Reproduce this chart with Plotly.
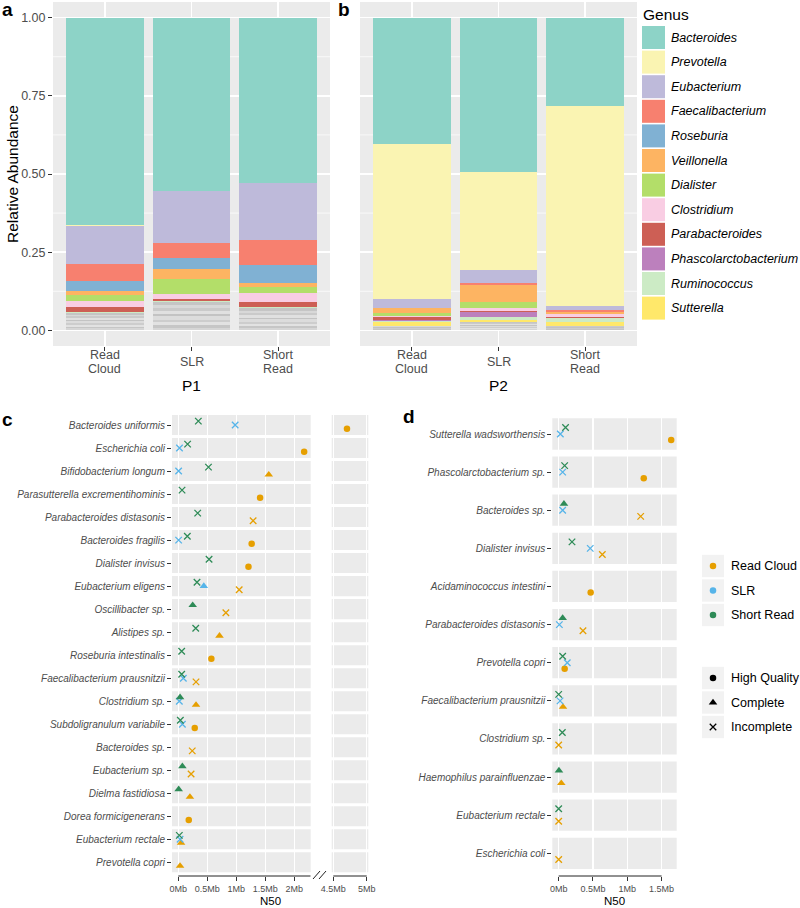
import plotly.graph_objects as go

W, H = 800, 908
FONT = "Liberation Sans, Arial, Helvetica, sans-serif"


def px_x(p):
    return p / W


def px_y(p):
    return 1 - p / H


# ---------------- data: panels a / b (relative abundance) ----------------
samples = ["Read Cloud", "SLR", "Short Read"]
sample_tick_lines = [["Read", "Cloud"], ["SLR"], ["Short", "Read"]]
genera = ["Bacteroides", "Prevotella", "Eubacterium", "Faecalibacterium", "Roseburia",
          "Veillonella", "Dialister", "Clostridium", "Parabacteroides",
          "Phascolarctobacterium", "Ruminococcus", "Sutterella"]
genus_colors = ["#8DD3C7", "#FAF4B2", "#BEBADA", "#F7806F", "#80B1D3", "#FDB462",
                "#B3DE69", "#F9CDE3", "#CD5F55", "#BC80BD", "#CCEBC5", "#FFE86A"]

# values in genera order
p1_read_cloud = [0.662, 0.003, 0.122, 0.055, 0.031, 0.015, 0.019, 0.017, 0.018, 0.000, 0.002, 0.000]
p1_slr = [0.554, 0.000, 0.166, 0.049, 0.035, 0.032, 0.047, 0.016, 0.007, 0.000, 0.002, 0.000]
p1_short_read = [0.528, 0.000, 0.182, 0.082, 0.057, 0.012, 0.019, 0.028, 0.017, 0.000, 0.004, 0.000]
p2_read_cloud = [0.405, 0.496, 0.026, 0.002, 0.000, 0.017, 0.008, 0.004, 0.008, 0.003, 0.004, 0.013]
p2_slr = [0.492, 0.314, 0.041, 0.008, 0.000, 0.055, 0.019, 0.008, 0.005, 0.015, 0.009, 0.006]
p2_short_read = [0.281, 0.642, 0.013, 0.004, 0.000, 0.007, 0.002, 0.008, 0.005, 0.000, 0.011, 0.012]

# remaining low-abundance genera (unlabelled grey stripes)
p1_other_read_cloud = [0.006, 0.004, 0.008, 0.005, 0.007, 0.004, 0.006, 0.005, 0.004, 0.007]
p1_other_slr = [0.009, 0.007, 0.010, 0.008, 0.011, 0.007, 0.011, 0.009, 0.008, 0.012]
p1_other_short_read = [0.007, 0.006, 0.008, 0.006, 0.009, 0.005, 0.008, 0.007, 0.006, 0.009]
p2_other_read_cloud = [0.002, 0.001, 0.002, 0.001, 0.002, 0.002, 0.001, 0.001, 0.001, 0.001]
p2_other_slr = [0.003, 0.002, 0.004, 0.002, 0.003, 0.003, 0.002, 0.004, 0.002, 0.003]
p2_other_short_read = [0.002, 0.001, 0.002, 0.002, 0.001, 0.002, 0.001, 0.002, 0.001, 0.001]
other_shades = ["#D6D6D6", "#C6C6C6", "#E2E2E2", "#CDCDCD", "#DCDCDC",
                "#C3C3C3", "#E0E0E0", "#CACACA", "#D8D8D8", "#C5C5C5"]

abund_tickvals = [0, 0.25, 0.5, 0.75, 1.0]
abund_ticktext = ["0.00", "0.25", "0.50", "0.75", "1.00"]

# ---------------- data: panels c / d (N50 in Mb) ----------------
methods = ["Read Cloud", "SLR", "Short Read"]
method_colors = ["#E69F00", "#56B4E9", "#2E8B57"]
qualities = ["High Quality", "Complete", "Incomplete"]

c_species = ["Bacteroides uniformis", "Escherichia coli", "Bifidobacterium longum",
             "Parasutterella excrementihominis", "Parabacteroides distasonis",
             "Bacteroides fragilis", "Dialister invisus", "Eubacterium eligens",
             "Oscillibacter sp.", "Alistipes sp.", "Roseburia intestinalis",
             "Faecalibacterium prausnitzii", "Clostridium sp.", "Subdoligranulum variabile",
             "Bacteroides sp.", "Eubacterium sp.", "Dielma fastidiosa",
             "Dorea formicigenerans", "Eubacterium rectale", "Prevotella copri"]

c_point_species = [
    "Bacteroides uniformis", "Bacteroides uniformis", "Bacteroides uniformis",
    "Escherichia coli", "Escherichia coli", "Escherichia coli",
    "Bifidobacterium longum", "Bifidobacterium longum", "Bifidobacterium longum",
    "Parasutterella excrementihominis", "Parasutterella excrementihominis",
    "Parabacteroides distasonis", "Parabacteroides distasonis",
    "Bacteroides fragilis", "Bacteroides fragilis", "Bacteroides fragilis",
    "Dialister invisus", "Dialister invisus",
    "Eubacterium eligens", "Eubacterium eligens", "Eubacterium eligens",
    "Oscillibacter sp.", "Oscillibacter sp.",
    "Alistipes sp.", "Alistipes sp.",
    "Roseburia intestinalis", "Roseburia intestinalis",
    "Faecalibacterium prausnitzii", "Faecalibacterium prausnitzii", "Faecalibacterium prausnitzii",
    "Clostridium sp.", "Clostridium sp.", "Clostridium sp.",
    "Subdoligranulum variabile", "Subdoligranulum variabile", "Subdoligranulum variabile",
    "Bacteroides sp.",
    "Eubacterium sp.", "Eubacterium sp.",
    "Dielma fastidiosa", "Dielma fastidiosa",
    "Dorea formicigenerans",
    "Eubacterium rectale", "Eubacterium rectale", "Eubacterium rectale",
    "Prevotella copri"]
c_point_method = [
    "Short Read", "SLR", "Read Cloud",
    "SLR", "Short Read", "Read Cloud",
    "SLR", "Short Read", "Read Cloud",
    "Short Read", "Read Cloud",
    "Short Read", "Read Cloud",
    "SLR", "Short Read", "Read Cloud",
    "Short Read", "Read Cloud",
    "Short Read", "SLR", "Read Cloud",
    "Short Read", "Read Cloud",
    "Short Read", "Read Cloud",
    "Short Read", "Read Cloud",
    "Short Read", "SLR", "Read Cloud",
    "Short Read", "SLR", "Read Cloud",
    "Short Read", "SLR", "Read Cloud",
    "Read Cloud",
    "Short Read", "Read Cloud",
    "Short Read", "Read Cloud",
    "Read Cloud",
    "Short Read", "SLR", "Read Cloud",
    "Read Cloud"]
c_point_quality = [
    "Incomplete", "Incomplete", "High Quality",
    "Incomplete", "Incomplete", "High Quality",
    "Incomplete", "Incomplete", "Complete",
    "Incomplete", "High Quality",
    "Incomplete", "Incomplete",
    "Incomplete", "Incomplete", "High Quality",
    "Incomplete", "High Quality",
    "Incomplete", "Complete", "Incomplete",
    "Complete", "Incomplete",
    "Incomplete", "Complete",
    "Incomplete", "High Quality",
    "Incomplete", "Incomplete", "Incomplete",
    "Complete", "Incomplete", "Complete",
    "Incomplete", "Incomplete", "High Quality",
    "Incomplete",
    "Complete", "Incomplete",
    "Complete", "Complete",
    "High Quality",
    "Incomplete", "Incomplete", "Complete",
    "Complete"]
c_point_n50 = [
    0.345, 0.98, 4.705,
    0.02, 0.16, 2.17,
    0.005, 0.52, 1.56,
    0.064, 1.41,
    0.334, 1.29,
    0.005, 0.155, 1.265,
    0.53, 1.21,
    0.322, 0.44, 1.05,
    0.248, 0.82,
    0.30, 0.71,
    0.058, 0.57,
    0.058, 0.086, 0.305,
    0.03, 0.017, 0.305,
    0.035, 0.07, 0.283,
    0.24,
    0.07, 0.22,
    0.006, 0.20,
    0.18,
    0.017, 0.03, 0.047,
    0.03]

c_left_tickvals = [0, 0.5, 1.0, 1.5, 2.0]
c_left_ticktext = ["0Mb", "0.5Mb", "1Mb", "1.5Mb", "2Mb"]
c_right_tickvals = [4.5, 5.0]
c_right_ticktext = ["4.5Mb", "5Mb"]
c_break = 3.0

d_species = ["Sutterella wadsworthensis", "Phascolarctobacterium sp.", "Bacteroides sp.",
             "Dialister invisus", "Acidaminococcus intestini", "Parabacteroides distasonis",
             "Prevotella copri", "Faecalibacterium prausnitzii", "Clostridium sp.",
             "Haemophilus parainfluenzae", "Eubacterium rectale", "Escherichia coli"]
d_point_species = [
    "Sutterella wadsworthensis", "Sutterella wadsworthensis", "Sutterella wadsworthensis",
    "Phascolarctobacterium sp.", "Phascolarctobacterium sp.", "Phascolarctobacterium sp.",
    "Bacteroides sp.", "Bacteroides sp.", "Bacteroides sp.",
    "Dialister invisus", "Dialister invisus", "Dialister invisus",
    "Acidaminococcus intestini",
    "Parabacteroides distasonis", "Parabacteroides distasonis", "Parabacteroides distasonis",
    "Prevotella copri", "Prevotella copri", "Prevotella copri",
    "Faecalibacterium prausnitzii", "Faecalibacterium prausnitzii", "Faecalibacterium prausnitzii",
    "Clostridium sp.", "Clostridium sp.",
    "Haemophilus parainfluenzae", "Haemophilus parainfluenzae",
    "Eubacterium rectale", "Eubacterium rectale",
    "Escherichia coli"]
d_point_method = [
    "SLR", "Short Read", "Read Cloud",
    "SLR", "Short Read", "Read Cloud",
    "Short Read", "SLR", "Read Cloud",
    "Short Read", "SLR", "Read Cloud",
    "Read Cloud",
    "Short Read", "SLR", "Read Cloud",
    "Short Read", "SLR", "Read Cloud",
    "Short Read", "SLR", "Read Cloud",
    "Short Read", "Read Cloud",
    "Short Read", "Read Cloud",
    "Short Read", "Read Cloud",
    "Read Cloud"]
d_point_quality = [
    "Incomplete", "Incomplete", "High Quality",
    "Incomplete", "Incomplete", "High Quality",
    "Complete", "Incomplete", "Incomplete",
    "Incomplete", "Incomplete", "Incomplete",
    "High Quality",
    "Complete", "Incomplete", "Incomplete",
    "Incomplete", "Incomplete", "High Quality",
    "Incomplete", "Incomplete", "Complete",
    "Incomplete", "Incomplete",
    "Complete", "Complete",
    "Incomplete", "Incomplete",
    "Incomplete"]
d_point_n50 = [
    0.024, 0.10, 1.64,
    0.058, 0.087, 1.24,
    0.077, 0.058, 1.195,
    0.194, 0.46, 0.636,
    0.466,
    0.058, 0.01, 0.354,
    0.058, 0.125, 0.087,
    0.0, 0.02, 0.063,
    0.053, 0.0,
    0.004, 0.038,
    0.0, 0.0,
    0.0]

d_tickvals = [0, 0.5, 1.0, 1.5]
d_ticktext = ["0Mb", "0.5Mb", "1Mb", "1.5Mb"]

# ---------------- styling ----------------
PANEL_BG = "#EBEBEB"
TXT = "#4D4D4D"
TICKC = "#333333"
quality_symbol = {"High Quality": "circle", "Complete": "triangle-up", "Incomplete": "x-thin"}
quality_size = {"High Quality": 6.5, "Complete": 7.5, "Incomplete": 6.5}
quality_lw = {"High Quality": 0, "Complete": 0, "Incomplete": 1.3}
dodge = {"Read Cloud": 0.16, "SLR": 0.0, "Short Read": -0.17}

fig = go.Figure()

# ---------------- bars ----------------
bar_sets = [
    ([p1_read_cloud, p1_slr, p1_short_read],
     [p1_other_read_cloud, p1_other_slr, p1_other_short_read], "x", "y"),
    ([p2_read_cloud, p2_slr, p2_short_read],
     [p2_other_read_cloud, p2_other_slr, p2_other_short_read], "x2", "y2"),
]
for vals, others, xa, ya in bar_sets:
    for k, shade in enumerate(other_shades):
        fig.add_trace(go.Bar(x=samples, y=[o[k] for o in others],
                             marker=dict(color=shade, line=dict(width=0)),
                             xaxis=xa, yaxis=ya, showlegend=False, hoverinfo="skip"))
    for g in reversed(range(len(genera))):
        fig.add_trace(go.Bar(x=samples, y=[v[g] for v in vals], name=genera[g],
                             marker=dict(color=genus_colors[g], line=dict(width=0)),
                             xaxis=xa, yaxis=ya, showlegend=False))


# ---------------- points ----------------
def add_points(species, p_species, p_method, p_quality, p_n50, parts):
    for m, col in zip(methods, method_colors):
        for xa, ya, keep in parts:
            idx = [i for i in range(len(p_n50)) if p_method[i] == m and keep(p_n50[i])]
            if not idx:
                continue
            fig.add_trace(go.Scatter(
                x=[p_n50[i] for i in idx],
                y=[species.index(p_species[i]) + dodge[m] for i in idx],
                mode="markers", name=m, showlegend=False, cliponaxis=False,
                marker=dict(color=col, opacity=1,
                            symbol=[quality_symbol[p_quality[i]] for i in idx],
                            size=[quality_size[p_quality[i]] for i in idx],
                            line=dict(color=col, width=[quality_lw[p_quality[i]] for i in idx])),
                xaxis=xa, yaxis=ya))


add_points(c_species, c_point_species, c_point_method, c_point_quality, c_point_n50,
           [("x3", "y3", lambda v: v < c_break), ("x4", "y4", lambda v: v >= c_break)])
add_points(d_species, d_point_species, d_point_method, d_point_quality, d_point_n50,
           [("x5", "y5", lambda v: True)])

# ---------------- layout geometry ----------------
shapes = []
annotations = []

# panel a/b backgrounds and minor grid lines
minor_vals = [(abund_tickvals[i] + abund_tickvals[i + 1]) / 2 for i in range(len(abund_tickvals) - 1)]
for xr, yr in [("x", "y"), ("x2", "y2")]:
    shapes.append(dict(type="rect", xref=xr + " domain", yref=yr + " domain", x0=0, x1=1, y0=0, y1=1,
                       fillcolor=PANEL_BG, line=dict(width=0), layer="below"))
    for mv in minor_vals:
        shapes.append(dict(type="line", xref=xr + " domain", yref=yr, x0=0, x1=1, y0=mv, y1=mv,
                           line=dict(color="white", width=0.7), layer="below"))
    # category tick labels (two-line, tight spacing)
    for s, lines in zip(samples, sample_tick_lines):
        n = len(lines)
        for li, t in enumerate(lines):
            annotations.append(dict(text=t, x=s, xref=xr, y=px_y(362 + (li - (n - 1) / 2) * 13.8),
                                    yref="paper", xanchor="center", yanchor="middle",
                                    showarrow=False, font=dict(size=12.5, color=TXT, family=FONT)))

# panel c / d row bands (facets)
for i in range(len(c_species)):
    for xr, yr in [("x3", "y3"), ("x4", "y4")]:
        shapes.append(dict(type="rect", xref=xr + " domain", yref=yr, x0=0, x1=1,
                           y0=i - 0.435, y1=i + 0.435, fillcolor=PANEL_BG,
                           line=dict(width=0), layer="below"))
for i in range(len(d_species)):
    shapes.append(dict(type="rect", xref="x5 domain", yref="y5", x0=0, x1=1,
                       y0=i - 0.41, y1=i + 0.41, fillcolor=PANEL_BG,
                       line=dict(width=0), layer="below"))

# capped axis lines for c / d
shapes.append(dict(type="line", xref="x3", yref="y3 domain", x0=c_left_tickvals[0], x1=2.283,
                   y0=0, y1=0, line=dict(color="#222222", width=1)))
shapes.append(dict(type="line", xref="x4", yref="y4 domain", x0=c_right_tickvals[0],
                   x1=c_right_tickvals[-1], y0=0, y1=0, line=dict(color="#222222", width=1)))
shapes.append(dict(type="line", xref="x5", yref="y5 domain", x0=d_tickvals[0], x1=d_tickvals[-1],
                   y0=0, y1=0, line=dict(color="#222222", width=1)))
# axis break marks
for dx in (0, 6):
    shapes.append(dict(type="line", xref="paper", yref="paper",
                       x0=px_x(313 + dx), y0=px_y(879), x1=px_x(320 + dx), y1=px_y(871),
                       line=dict(color="#222222", width=1)))

# Genus legend
annotations.append(dict(text="Genus", x=px_x(641), y=px_y(14), xref="paper", yref="paper",
                        xanchor="left", yanchor="middle", showarrow=False,
                        font=dict(size=15.5, color="black", family=FONT)))
for i, (g, col) in enumerate(zip(genera, genus_colors)):
    cy = 37.5 + i * 24.6
    shapes.append(dict(type="rect", xref="paper", yref="paper",
                       x0=px_x(642), x1=px_x(665), y0=px_y(cy + 11.5), y1=px_y(cy - 11.5),
                       fillcolor=col, line=dict(width=0)))
    annotations.append(dict(text="<i>" + g + "</i>", x=px_x(669), y=px_y(cy), xref="paper",
                            yref="paper", xanchor="left", yanchor="middle", showarrow=False,
                            font=dict(size=12.5, color="black", family=FONT)))

# legend for c/d: keys drawn on a small dedicated axis (pixel rows)
LEG_TOP, LEG_BOT = 550, 745
leg_items = []
for i, (m, col) in enumerate(zip(methods, method_colors)):
    leg_items.append((566 + i * 24.5, m, col, "circle", 6.5, 0))
for j, q in enumerate(qualities):
    leg_items.append((678 + j * 24.5, q, "black", quality_symbol[q], quality_size[q], quality_lw[q]))
for cy, label, col, sym, size, lw in leg_items:
    shapes.append(dict(type="rect", xref="paper", yref="paper",
                       x0=px_x(702), x1=px_x(724), y0=px_y(cy + 11.2), y1=px_y(cy - 11.2),
                       fillcolor="#F2F2F2", line=dict(width=0), layer="below"))
    annotations.append(dict(text=label, x=px_x(729), y=px_y(cy), xref="paper", yref="paper",
                            xanchor="left", yanchor="middle", showarrow=False,
                            font=dict(size=12.5, color="black", family=FONT)))
fig.add_trace(go.Scatter(
    x=[0.5] * len(leg_items), y=[it[0] for it in leg_items], mode="markers",
    marker=dict(color=[it[2] for it in leg_items], symbol=[it[3] for it in leg_items],
                size=[it[4] for it in leg_items], opacity=1,
                line=dict(color=[it[2] for it in leg_items], width=[it[5] for it in leg_items])),
    xaxis="x6", yaxis="y6", showlegend=False, hoverinfo="skip", cliponaxis=False))


# titles / panel letters
def ann(text, x, y, size, color="black", bold=False, angle=0, xanchor="center"):
    annotations.append(dict(text=("<b>%s</b>" % text) if bold else text, x=px_x(x), y=px_y(y),
                            xref="paper", yref="paper", xanchor=xanchor, yanchor="middle",
                            showarrow=False, textangle=angle,
                            font=dict(size=size, color=color, family=FONT)))


ann("a", 0, 10, 19, bold=True, xanchor="left")
ann("b", 336, 10, 19, bold=True, xanchor="left")
ann("c", 0, 419, 19, bold=True, xanchor="left")
ann("d", 401, 416, 19, bold=True, xanchor="left")
ann("Relative Abundance", 12, 174, 15.5, angle=-90)
ann("P1", 191.5, 385, 15.5)
ann("P2", 498.5, 385, 15.5)
ann("N50", 270, 901, 11.5)
ann("N50", 614.5, 901, 11.5)

tick_common = dict(ticks="outside", ticklen=4, tickwidth=1, tickcolor=TICKC,
                   zeroline=False, showline=False, automargin=False)

bar_x = dict(type="category", categoryorder="array", categoryarray=samples,
             range=[-0.6, 2.6], tickvals=samples, showticklabels=False,
             showgrid=True, gridcolor="white", gridwidth=1.4, **tick_common)

bar_y_common = dict(range=[-0.05, 1.05], tickvals=abund_tickvals, ticktext=abund_ticktext,
                    tickfont=dict(size=12.5, color=TXT, family=FONT),
                    showgrid=True, gridcolor="white", gridwidth=1.4,
                    domain=[px_y(346), px_y(2)], zeroline=False, showline=False,
                    automargin=False)

c_ydom = [px_y(876), px_y(413.5)]
c_yrange = [19.595, -0.5]
d_ydom = [px_y(876), px_y(417)]
d_yrange = [11.595, -0.446]
small_x = dict(tickfont=dict(size=9, color=TXT, family=FONT),
               showgrid=True, gridcolor="white", gridwidth=1.5, **tick_common)

fig.update_layout(
    template="none",
    width=W, height=H, autosize=False,
    margin=dict(l=0, r=0, t=0, b=0, pad=0),
    paper_bgcolor="white", plot_bgcolor="white",
    barmode="stack", bargap=0.1,
    font=dict(family=FONT, color=TXT),
    showlegend=False,
    hovermode=False,
    xaxis=dict(domain=[px_x(53), px_x(330)], anchor="y", **bar_x),
    yaxis=dict(anchor="x", ticks="outside", ticklen=4, tickwidth=1, tickcolor=TICKC,
               **bar_y_common),
    xaxis2=dict(domain=[px_x(360), px_x(637)], anchor="y2", **bar_x),
    yaxis2=dict(anchor="x2", showticklabels=False, ticks="", **bar_y_common),
    xaxis3=dict(domain=[px_x(172), px_x(310.7)], anchor="y3", range=[-0.109, 2.283],
                tickvals=c_left_tickvals, ticktext=c_left_ticktext, **small_x),
    yaxis3=dict(domain=c_ydom, anchor="x3", range=c_yrange,
                tickvals=list(range(len(c_species))),
                ticktext=["<i>%s</i>" % s for s in c_species],
                tickfont=dict(size=10, color=TXT, family=FONT), showgrid=False, **tick_common),
    xaxis4=dict(domain=[px_x(331.7), px_x(368.3)], anchor="y4", range=[4.476, 5.024],
                tickvals=c_right_tickvals, ticktext=c_right_ticktext, **small_x),
    yaxis4=dict(domain=c_ydom, anchor="x4", range=c_yrange, showticklabels=False,
                ticks="", showgrid=False, zeroline=False, showline=False, automargin=False),
    xaxis5=dict(domain=[px_x(552.3), px_x(676.7)], anchor="y5", range=[-0.093, 1.72],
                tickvals=d_tickvals, ticktext=d_ticktext, **small_x),
    yaxis5=dict(domain=d_ydom, anchor="x5", range=d_yrange,
                tickvals=list(range(len(d_species))),
                ticktext=["<i>%s</i>" % s for s in d_species],
                tickfont=dict(size=10, color=TXT, family=FONT), showgrid=False, **tick_common),
    xaxis6=dict(domain=[px_x(702), px_x(724)], anchor="y6", range=[0, 1], visible=False,
                fixedrange=True, automargin=False),
    yaxis6=dict(domain=[px_y(LEG_BOT), px_y(LEG_TOP)], anchor="x6", range=[LEG_BOT, LEG_TOP],
                visible=False, fixedrange=True, automargin=False),
    shapes=shapes,
    annotations=annotations,
)

fig.write_html("out.html",
               config={"displayModeBar": False, "staticPlot": True},
               post_script="document.body.style.margin='0px';document.body.style.padding='0px';")
